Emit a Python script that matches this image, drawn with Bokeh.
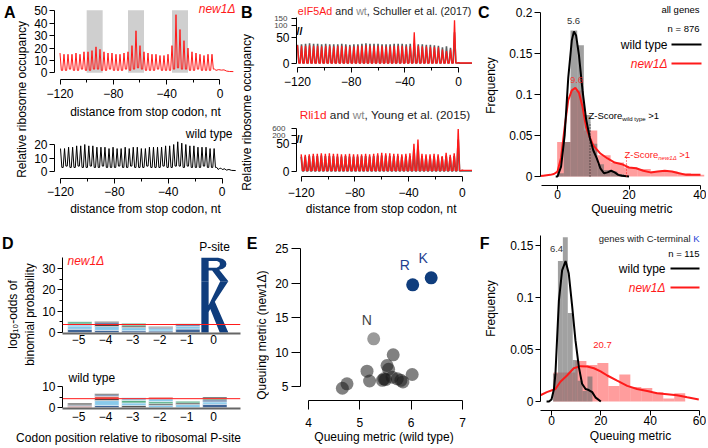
import math
from bokeh.plotting import figure
from bokeh.layouts import row, column
from bokeh.models import Label, FixedTicker, Range1d, Span, LinearAxis
from bokeh.embed import file_html
from bokeh.resources import INLINE

# =========================== DATA ===========================
# Panel A: metagene profiles, one codon peak every 3 nt from -120
A_first_codon = -120
A_codon_step = 3
A_new1_peaks = [16, 15, 15, 15, 16, 15, 17, 17, 18, 21,
                19, 17, 16, 16, 15, 15, 16, 17, 22, 34,
                22, 17, 16, 15, 15, 14, 14, 15, 22, 47,
                35, 26, 20, 17, 16, 15, 14, 15, 15]
A_new1_troughs = [2, 2, 3, 2, 2, 3, 2, 2, 3, 3,
                  2, 2, 3, 2, 2, 2, 3, 2, 3, 4,
                  3, 2, 2, 2, 3, 2, 2, 2, 3, 4,
                  3, 3, 2, 2, 3, 2, 2, 2, 3]
A_new1_tail_x = [-3, -1, 1, 3, 5, 7, 10]
A_new1_tail_y = [2.0, 2.6, 2.2, 2.4, 1.4, 1.1, 1.0]
A_wt_peaks = [17, 17, 18, 18, 19, 19, 20, 19, 19, 18,
              18, 18, 17, 18, 17, 17, 18, 17, 18, 18,
              17, 17, 18, 18, 18, 18, 19, 19, 20, 22,
              21, 20, 19, 19, 18, 18, 18, 17, 17]
A_wt_troughs = [3, 4, 3, 3, 4, 3, 3, 4, 3, 3,
                4, 3, 3, 3, 4, 3, 3, 4, 3, 3,
                3, 4, 3, 3, 3, 4, 3, 3, 4, 4,
                3, 4, 3, 3, 3, 4, 3, 3, 3]
A_wt_tail_x = [-3, -2, -1, 0, 2, 3, 5, 7, 10]
A_wt_tail_y = [1.5, 2.2, 2.5, 1.5, 2.0, 1.0, 1.5, 0.8, 0.7]
A_pause_start = [-100, -69, -36]
A_pause_end = [-88, -57, -24]
A_pause_top = 50.5

# Panel B: published datasets (codon peaks from -120 to -3)
B_first_codon = -120
B_codon_step = 3
B1_wt_peaks = [36, 37, 38, 39, 38, 38, 37, 38, 37, 37,
               37, 38, 37, 36, 37, 37, 38, 39, 38, 38,
               38, 37, 37, 37, 38, 38, 38, 37, 38, 39,
               37, 37, 36, 36, 35, 34, 31, 33, 30, 60]
B1_mut_peaks = [35, 34, 34, 35, 34, 34, 33, 34, 34, 33,
                34, 34, 33, 33, 33, 34, 34, 35, 34, 34,
                34, 34, 33, 33, 34, 34, 34, 33, 33, 60,
                34, 33, 33, 32, 32, 31, 27, 24, 27, 136]
B1_wt_trough = 1.0
B1_mut_trough = 0.8
B1_tail_x = [0, 1, 10]
B1_wt_tail_y = [1.0, 0.5, 0.5]
B1_mut_tail_y = [1.5, 1.0, 1.0]
B2_wt_peaks = [27, 27, 28, 28, 28, 29, 28, 28, 28, 27,
               27, 28, 27, 27, 27, 28, 28, 27, 28, 29,
               29, 29, 28, 28, 28, 27, 28, 28, 40, 45,
               28, 27, 27, 28, 27, 26, 29, 26, 28, 58]
B2_mut_peaks = [31, 30, 31, 32, 32, 33, 32, 33, 32, 32,
                31, 31, 32, 31, 31, 31, 32, 31, 32, 33,
                34, 33, 33, 32, 32, 31, 32, 33, 50, 58,
                32, 31, 31, 32, 31, 28, 34, 30, 33, 600]
B2_wt_trough = 1.0
B2_mut_trough = 1.5
B2_tail_x = [0, 1, 10]
B2_wt_tail_y = [1.5, 1.0, 1.0]
B2_mut_tail_y = [2.5, 2.0, 2.0]
B1_break_labels = [100, 150]
B2_break_labels = [200, 600]

# Panel C: queuing metric, all genes
C_wt_edges = [-0.1, 1.77, 3.64, 5.51, 7.38, 9.25, 11.12, 12.99, 14.86, 16.73, 18.6]
C_wt_freq = [0.004, 0.042, 0.178, 0.16, 0.075, 0.04, 0.015, 0.008, 0.006, 0.003]
C_mut_edges = [-0.1, 3.64, 7.38, 11.12, 14.86, 18.6, 22.34, 26.08, 29.82, 33.56, 37.3, 41.04]
C_mut_freq = [0.042, 0.105, 0.056, 0.026, 0.017, 0.011, 0.009, 0.006, 0.006, 0.004, 0.002]
C_wt_kde_x = [-0.5, 0, 1, 2, 3, 4, 4.6, 5.2, 6, 7, 8, 9, 10, 11, 12, 13, 14, 15, 16, 17, 18, 20]
C_wt_kde_y = [0, 0.0, 0.012, 0.05, 0.12, 0.166, 0.177, 0.172, 0.148, 0.105, 0.07, 0.048,
              0.032, 0.022, 0.01, 0.004, 0.005, 0.007, 0.005, 0.002, 0.001, 0]
C_mut_kde_x = [-5, -4, -2, -1, 0, 1, 2, 3, 4, 5, 6, 7, 8, 9, 10, 12, 14, 16, 18, 20,
               22, 24, 26, 28, 30, 32, 34, 36, 38, 40]
C_mut_kde_y = [0.0005, 0.001, 0.002, 0.003, 0.006, 0.023, 0.06, 0.093, 0.105, 0.108,
               0.102, 0.085, 0.06, 0.048, 0.038, 0.028, 0.022, 0.017, 0.015, 0.011,
               0.01, 0.007, 0.005, 0.006, 0.007, 0.006, 0.004, 0.002, 0.002, 0.002]
C_wt_median = "5.6"
C_mut_median = "9.6"
C_n = "n = 876"
C_wt_zcut = 9.1
C_mut_zcut = 19.3

# Panel D: sequence logos (amino acid, log10-odds height) per codon position
D_positions = [-5, -4, -3, -2, -1, 0]
D_new1_stacks = [
    [("K", 1.5), ("N", 1.6), ("T", 0.9), ("G", 1.0)],
    [("R", 1.0), ("N", 1.8), ("L", 1.0), ("K", 0.8), ("P", 0.6)],
    [("K", 0.8), ("S", 1.5), ("L", 0.8), ("G", 1.2)],
    [("K", 0.7), ("N", 1.1), ("K", 0.6), ("L", 0.4)],
    [("K", 1.6), ("N", 1.2), ("R", 0.8), ("G", 0.5)],
    [("K", 24.0), ("R", 11.0)],
]
D_wt_stacks = [
    [("D", 0.6), ("K", 0.5), ("L", 0.6), ("A", 0.5)],
    [("K", 1.0), ("N", 2.3), ("L", 1.0), ("E", 1.0), ("K", 0.7), ("L", 0.5)],
    [("A", 0.9), ("N", 1.3), ("G", 1.2), ("T", 1.2)],
    [("N", 1.1), ("L", 0.7), ("G", 1.0), ("N", 1.4), ("E", 0.7)],
    [("N", 1.4), ("A", 0.8), ("G", 0.8)],
    [("K", 1.5), ("N", 1.2), ("K", 0.9), ("G", 0.8), ("A", 0.6)],
]
D_new1_threshold = 3.75
D_wt_threshold = 4.2

# Panel E: per amino acid queuing metric
E_other_wt = [4.66, 4.75, 5.14, 5.19, 5.47, 5.44, 5.50, 5.53, 5.56, 5.65, 5.63, 5.73, 5.80, 5.84, 6.02]
E_other_new1 = [4.75, 5.39, 7.22, 5.80, 6.11, 5.90, 6.00, 8.04, 7.50, 9.59, 6.35, 6.11, 5.90, 5.66, 6.74]
E_N_wt = [5.27]
E_N_new1 = [11.91]
E_basic_aa = ["R", "K"]
E_basic_wt = [6.03, 6.39]
E_basic_new1 = [19.74, 20.75]

# Panel F: genes with C-terminal K
F_wt_edges = [0.6, 2.6, 4.6, 6.6, 8.6, 10.6, 12.6, 14.6, 16.6]
F_wt_freq = [0.027, 0.135, 0.158, 0.085, 0.04, 0.02, 0.01, 0.024]
F_mut_edges = [0.8, 5.25, 9.7, 14.15, 18.6, 23.05, 27.5, 31.95, 36.4, 40.85, 45.3, 49.75, 54.2]
F_mut_freq = [0.028, 0.028, 0.039, 0.035, 0.037, 0.015, 0.026, 0.014, 0.013, 0.009, 0.003, 0.008]
F_wt_kde_x = [-2, -1, 0, 1, 1.6, 3, 4.3, 5.7, 7, 8.4, 9.7, 11.1, 12.4, 13.8, 15.1, 16.5, 17.8, 20]
F_wt_kde_y = [0, 0.0, 0.002, 0.012, 0.027, 0.097, 0.126, 0.135, 0.123, 0.091, 0.059, 0.033,
              0.017, 0.012, 0.011, 0.009, 0.004, 0]
F_mut_kde_x = [-4.5, -1.9, 1.6, 3.6, 6.3, 9, 11.8, 14.5, 17.2, 19.9, 22.6, 26.6, 30.7,
               34.7, 38.8, 42.8, 46.9, 50.9, 55, 59.7]
F_mut_kde_y = [0.006, 0.009, 0.012, 0.019, 0.025, 0.032, 0.034, 0.0337, 0.032, 0.029,
               0.025, 0.02, 0.015, 0.012, 0.01, 0.008, 0.007, 0.006, 0.004, 0.002]
F_wt_median = "6.4"
F_mut_median = "20.7"
F_n = "n = 115"

# =========================== STYLE ===========================
FONT = "Liberation Sans"
RED = "#ff1a1a"
BLACK = "#000000"
DARK = "#222222"
GRAY_TXT = "#8a8a8a"
B_GRAY = "#5a6161"
NAVY = "#0f3d7d"
NB = "\u00a0"
AA_COLORS = {"K": NAVY, "R": NAVY, "H": NAVY,
             "N": "#6cbde6", "S": "#6cbde6", "T": "#6cbde6", "Q": "#6cbde6",
             "D": "#d7301f", "E": "#d7301f", "G": "#2f9e6e",
             "A": "#151515", "L": "#151515", "P": "#151515", "W": "#151515"}
LETTER_SHAPES = {
    "K": [([0, 0, 0.27, 0.27, 0.70, 1.0, 0.50, 1.0, 0.68, 0.33, 0.27, 0.27],
           [0, 1, 1, 0.53, 1, 1, 0.60, 0, 0, 0.46, 0.40, 0])],
    "R": [([0, 0, 0.62, 0.80, 0.90, 0.93, 0.90, 0.80, 0.66, 1.0, 0.70, 0.40, 0.27, 0.27],
           [0, 1, 1, 0.95, 0.86, 0.74, 0.62, 0.53, 0.49, 0, 0, 0.46, 0.46, 0]),
          ([0.27, 0.27, 0.58, 0.67, 0.69, 0.66, 0.57],
           [0.58, 0.87, 0.87, 0.81, 0.73, 0.64, 0.58])],
}

ARIAL = {' ': 278, NB: 278, '(': 333, ')': 333, ',': 278, '-': 333, '.': 278, '=': 584,
         '>': 584, 'A': 667, 'C': 722, 'K': 667, 'R': 722, 'S': 667, 'Y': 667, 'Z': 611,
         'Q': 778, 'a': 556, 'c': 500, 'd': 556, 'e': 556, 'g': 556, 'h': 556, 'i': 222,
         'l': 222, 'm': 833, 'n': 556, 'o': 556, 'p': 556, 'r': 333, 's': 500, 't': 278,
         'u': 556, 'w': 722, 'y': 500, 'I': 278, 'F': 611, 'Δ': 668}


def tw(s, size):
    return sum(ARIAL.get(c, 556) for c in s) * size / 1000.0


def base_fig(tile, frame, xr, yr, **kw):
    tx0, ty0, tx1, ty1 = tile
    fx0, fy0, fx1, fy1 = frame
    p = figure(width=tx1 - tx0, height=ty1 - ty0, x_range=Range1d(xr[0], xr[1]),
               y_range=Range1d(yr[0], yr[1]), toolbar_location=None, output_backend="svg",
               title=None, min_border_left=fx0 - tx0, min_border_right=tx1 - fx1,
               min_border_top=fy0 - ty0, min_border_bottom=ty1 - fy1, **kw)
    p.outline_line_color = None
    p.background_fill_color = "white"
    p.border_fill_color = "white"
    p.xgrid.visible = False
    p.ygrid.visible = False
    return p


class Panel:
    """tile/frame in page pixels; xmap/ymap = (pixel, data value, px per unit)."""

    def __init__(self, tile, frame=None, xmap=None, ymap=None):
        tx0, ty0, tx1, ty1 = tile
        blank = frame is None
        if blank:
            frame = tile
            xmap = (tx0, 0.0, 1.0)
            ymap = (ty1, 0.0, 1.0)
        fx0, fy0, fx1, fy1 = frame
        xr = (xmap[1] + (fx0 - xmap[0]) / xmap[2], xmap[1] + (fx1 - xmap[0]) / xmap[2])
        yr = (ymap[1] - (fy1 - ymap[0]) / ymap[2], ymap[1] + (ymap[0] - fy0) / ymap[2])
        kw = dict(x_axis_location=None, y_axis_location=None) if blank else {}
        self.p = base_fig(tile, frame, xr, yr, **kw)
        self.fl, self.fr, self.ft, self.fb = fx0, fx1, fy0, fy1
        self.xr, self.yr = xr, yr

    def dx(self, px):
        return self.xr[0] + (px - self.fl) / (self.fr - self.fl) * (self.xr[1] - self.xr[0])

    def dy(self, py):
        return self.yr[1] - (py - self.ft) / (self.fb - self.ft) * (self.yr[1] - self.yr[0])

    def text(self, px, py, s, size=12, color=BLACK, align="left", baseline="middle",
             style="normal", **kw):
        self.p.add_layout(Label(x=self.dx(px), y=self.dy(py), text=s, text_font=FONT,
                                text_font_size=f"{size}px", text_color=color, text_align=align,
                                text_baseline=baseline, text_font_style=style, **kw))

    def rich(self, px, py, parts, align="left"):
        total = sum(tw(t, s) for t, s, *_ in parts)
        cur = px - total if align == "right" else px
        for t, s, c, st, sub in parts:
            self.text(cur, py + sub, t, size=s, color=c, style=st)
            cur += tw(t, s)

    def hseg(self, px0, px1, py, color, width=2):
        y = self.dy(py)
        self.p.segment(x0=[self.dx(px0)], y0=[y], x1=[self.dx(px1)], y1=[y],
                       line_color=color, line_width=width)


def quiet_axis(ax):
    ax.axis_line_color = None
    ax.major_tick_line_color = None
    ax.minor_tick_line_color = None
    ax.major_tick_out = 0
    ax.minor_tick_out = 0
    ax.major_tick_in = 0
    ax.minor_tick_in = 0


def label_only_axis(ax, text, standoff=0):
    ax.ticker = FixedTicker(ticks=[])
    quiet_axis(ax)
    ax.major_label_standoff = 0
    ax.axis_label = text
    ax.axis_label_text_font = FONT
    ax.axis_label_text_font_size = "12px"
    ax.axis_label_text_font_style = "normal"
    ax.axis_label_text_color = BLACK
    ax.axis_label_standoff = standoff


def title_strip(tile, frame_left, frame_top, frame_bottom, texts, letter, letter_py, letter_standoff):
    """vertical axis-title strip (texts[0] nearest the plot) with the panel letter outermost."""
    frame = (frame_left, frame_top, tile[2], frame_bottom)
    p = base_fig(tile, frame, (0, 1), (0, 1), x_axis_location=None, y_axis_location="left")
    label_only_axis(p.yaxis[0], texts[0])
    for t in texts[1:]:
        ax = LinearAxis()
        label_only_axis(ax, t)
        p.add_layout(ax, "left")
    yv = round((frame_bottom - letter_py) / (frame_bottom - frame_top), 4)
    ax = LinearAxis(ticker=FixedTicker(ticks=[yv]), major_label_overrides={yv: letter})
    quiet_axis(ax)
    ax.major_label_standoff = letter_standoff
    ax.major_label_text_font = FONT
    ax.major_label_text_font_size = "16px"
    ax.major_label_text_font_style = "bold"
    ax.major_label_text_color = BLACK
    p.add_layout(ax, "left")
    return p


def axis_style(ax, ticks, minor=(), bounds=None, overrides=None, tick_out=5, size="12px",
               color=BLACK, width=1, standoff=2, label=None, label_standoff=2):
    ax.ticker = FixedTicker(ticks=list(ticks), minor_ticks=list(minor))
    if bounds is not None:
        ax.bounds = bounds
    if overrides:
        ax.major_label_overrides = overrides
    ax.major_tick_out = tick_out
    ax.major_tick_in = 0
    ax.minor_tick_out = max(2, tick_out - 2)
    ax.minor_tick_in = 0
    if tick_out == 0:
        ax.major_tick_line_color = None
        ax.minor_tick_line_color = None
    ax.major_label_text_font = FONT
    ax.major_label_text_font_size = size
    ax.major_label_text_color = BLACK
    ax.major_label_standoff = standoff
    ax.axis_line_color = color
    ax.axis_line_width = width
    if label:
        ax.axis_label = label
        ax.axis_label_text_font = FONT
        ax.axis_label_text_font_size = "12px"
        ax.axis_label_text_font_style = "normal"
        ax.axis_label_text_color = BLACK
        ax.axis_label_standoff = label_standoff


def zigzag(first, step, peaks, troughs, tail_x, tail_y, scale=None):
    xs, ys = [], []
    for k, pk in enumerate(peaks):
        x0 = first + step * k
        t = troughs[k] if isinstance(troughs, list) else troughs
        xs += [x0, x0 + 1, x0 + 2]
        ys += [pk, t, t]
    xs += list(tail_x)
    ys += list(tail_y)
    if scale:
        ys = [scale(v) for v in ys]
    return xs, ys


def b1_scale(v):
    if v <= 70:
        return v
    if v <= 100:
        return 70 + (v - 70) * 0.1
    return round(73 + (v - 100) * 0.28, 3)


def b2_scale(v):
    if v <= 60:
        return v
    if v <= 200:
        return round(60 + (v - 60) * 6 / 140, 3)
    return round(66 + (v - 200) * 0.0275, 3)


def hist(pn, edges, freq, color, alpha):
    pn.p.quad(left=edges[:-1], right=edges[1:], top=freq, bottom=[0] * len(freq),
              fill_color=color, fill_alpha=alpha, line_color=None)


def break_axis(pn, scale, values, standoff):
    ticks = [scale(v) for v in values]
    ax2 = LinearAxis(ticker=FixedTicker(ticks=ticks),
                     major_label_overrides={t: str(v) for t, v in zip(ticks, values)})
    quiet_axis(ax2)
    ax2.major_label_standoff = standoff
    ax2.major_label_text_font = FONT
    ax2.major_label_text_font_size = "8px"
    pn.p.add_layout(ax2, "left")


# =========================== PANEL A ===========================
TAt = title_strip((0, 0, 30, 226), 25, 3, 195, ["Relative ribosome occupancy"], "A", 12, -4)

A1 = Panel((30, 0, 236, 121), (54, 0, 236, 83), (59.5, -120, 1.3333), (76, 0, 1.3))
for l, r in zip(A_pause_start, A_pause_end):
    A1.p.quad(left=[l], right=[r], bottom=[0], top=[A_pause_top], fill_color="#cfcfcf",
              line_color=None)
x, y = zigzag(A_first_codon, A_codon_step, A_new1_peaks, A_new1_troughs, A_new1_tail_x, A_new1_tail_y)
A1.p.line(x, y, line_color=RED, line_width=1)
axis_style(A1.p.xaxis[0], [-120, -80, -40, 0], [-100, -60, -20], bounds=(-120, 0), standoff=4,
           label="distance from stop codon, nt", label_standoff=4)
axis_style(A1.p.yaxis[0], [0, 10, 20, 30, 40, 50], bounds=(0, 50))
A1.text(235, 9, "new1Δ", size=12, color=RED, align="right", style="italic")

A2 = Panel((30, 121, 236, 226), (54, 124, 236, 178), (60, -120, 1.3475), (171, 0, 1.35))
x, y = zigzag(A_first_codon, A_codon_step, A_wt_peaks, A_wt_troughs, A_wt_tail_x, A_wt_tail_y)
A2.p.line(x, y, line_color=BLACK, line_width=1)
axis_style(A2.p.xaxis[0], [-120, -80, -40, 0], [-100, -60, -20], bounds=(-120, 0), standoff=3,
           label="distance from stop codon, nt", label_standoff=3)
axis_style(A2.p.yaxis[0], [0, 10, 20], bounds=(0, 20))
A2.text(232, 133, "wild type", size=12, align="right")

# =========================== PANEL B ===========================
TBt = title_strip((236, 0, 258, 226), 253, 0, 224, ["Relative ribosome occupancy"], "B", 12, -16)

B1 = Panel((258, 0, 472, 105), (296, 0, 472, 67), (297, -120, 1.342), (63, 0, 0.52))
x, y = zigzag(B_first_codon, B_codon_step, B1_wt_peaks, B1_wt_trough, B1_tail_x, B1_wt_tail_y, b1_scale)
B1.p.line(x, y, line_color=B_GRAY, line_width=1.6)
x, y = zigzag(B_first_codon, B_codon_step, B1_mut_peaks, B1_mut_trough, B1_tail_x, B1_mut_tail_y, b1_scale)
B1.p.line(x, y, line_color=RED, line_width=1.3)
axis_style(B1.p.xaxis[0], [-120, -80, -40, 0], [-100, -60, -20], bounds=(-120, 0), standoff=4)
bt = [b1_scale(v) for v in B1_break_labels]
axis_style(B1.p.yaxis[0], [0, 50] + bt, bounds=(0, 88), overrides={t: "" for t in bt})
break_axis(B1, b1_scale, B1_break_labels, -14)
B1.text(299, 30, "//", size=11, style="bold", align="center")
B1.rich(471, 10, [("eIF5Ad", 10.7, RED, "normal", 0), (NB + "and" + NB, 10.7, DARK, "normal", 0),
                  ("wt", 10.7, GRAY_TXT, "normal", 0),
                  (", Schuller et al. (2017)", 10.7, DARK, "normal", 0)], align="right")

B2 = Panel((258, 105, 472, 226), (296, 105, 472, 176), (300.7, -120, 1.342), (171, 0, 0.553))
x, y = zigzag(B_first_codon, B_codon_step, B2_wt_peaks, B2_wt_trough, B2_tail_x, B2_wt_tail_y, b2_scale)
B2.p.line(x, y, line_color=B_GRAY, line_width=1.8)
x, y = zigzag(B_first_codon, B_codon_step, B2_mut_peaks, B2_mut_trough, B2_tail_x, B2_mut_tail_y, b2_scale)
B2.p.line(x, y, line_color=RED, line_width=1.4)
axis_style(B2.p.xaxis[0], [-120, -80, -40, 0], [-100, -60, -20], bounds=(-120, 0), standoff=6,
           label="distance from stop codon, nt" + NB * 2, label_standoff=2)
bt = [b2_scale(v) for v in B2_break_labels]
axis_style(B2.p.yaxis[0], [0, 50] + bt, bounds=(0, 78), overrides={t: "" for t in bt})
break_axis(B2, b2_scale, B2_break_labels, -12)
B2.text(299, 138, "//", size=11, style="bold", align="center")
B2.rich(471, 114, [("Rli1d", 11.8, RED, "normal", 0), (NB + "and" + NB, 11.8, DARK, "normal", 0),
                   ("wt", 11.8, GRAY_TXT, "normal", 0),
                   (", Young et al. (2015)", 11.8, DARK, "normal", 0)], align="right")

# =========================== PANEL C ===========================
TCt = title_strip((472, 0, 499, 226), 497, 3, 167, ["Frequency"], "C", 12, -9)

C = Panel((499, 0, 706, 226), (540, 0, 706, 185), (557, 0, 3.575), (176, 0, 820))
hist(C, C_mut_edges, C_mut_freq, "#ff3b3b", 0.5)
hist(C, C_wt_edges, C_wt_freq, "#6f6f6f", 0.65)
C.p.line(C_mut_kde_x, C_mut_kde_y, line_color=RED, line_width=2)
C.p.line(C_wt_kde_x, C_wt_kde_y, line_color=BLACK, line_width=2)
C.p.segment(x0=[C_wt_zcut], y0=[0], x1=[C_wt_zcut], y1=[0.066], line_color=BLACK,
            line_dash="1 2", line_width=1)
C.p.segment(x0=[C_mut_zcut], y0=[0], x1=[C_mut_zcut], y1=[0.025], line_color=RED,
            line_dash="1 2", line_width=1)
axis_style(C.p.xaxis[0], [0, 20, 40], bounds=(-4.5, 40), tick_out=4, standoff=0,
           label=NB * 5 + "Queuing metric", label_standoff=0)
axis_style(C.p.yaxis[0], [0, 0.05, 0.1, 0.15, 0.2], bounds=(0, 0.2), overrides={0: "0"}, tick_out=6)
C.text(573, 20, C_wt_median, size=9.5, color="#333333", align="center")
C.text(576, 79, C_mut_median, size=9.5, color=RED, align="center", text_alpha=0.8)
C.rich(588, 115, [("Z-Score", 9.5, BLACK, "normal", 0), ("wild type", 6, BLACK, "normal", 3),
                  (NB + ">1", 9.5, BLACK, "normal", 0)])
C.rich(624, 154, [("Z-Score", 9.5, RED, "normal", 0), ("new1Δ", 6, RED, "italic", 3),
                  (NB + ">1", 9.5, RED, "normal", 0)])
C.text(699, 9, "all genes", size=9.5, align="right")
C.text(699, 28, C_n, size=9.5, align="right")
C.text(667, 44, "wild type", size=12, align="right")
C.hseg(671, 701, 44, BLACK)
C.text(667, 63, "new1Δ", size=12, color=RED, align="right", style="italic")
C.hseg(671, 701, 63, RED)


# =========================== PANEL D ===========================
def draw_logo(pn, positions, stacks):
    for pos, stack in zip(positions, stacks):
        base = 0.0
        for aa, h in stack:
            x0 = pos - 0.45
            if h >= 5 and aa in LETTER_SHAPES:
                rings_x = [[x0 + u for u in rx] for rx, ry in LETTER_SHAPES[aa]]
                rings_y = [[base + h * v for v in ry] for rx, ry in LETTER_SHAPES[aa]]
                pn.p.multi_polygons(xs=[[rings_x]], ys=[[rings_y]], fill_color=AA_COLORS[aa],
                                    line_color=None)
            else:
                pn.p.quad(left=[x0 + 0.05], right=[x0 + 0.95], bottom=[base], top=[base + h],
                          fill_color=AA_COLORS[aa], fill_alpha=0.8, line_color="white",
                          line_width=0.5)
            base += h


TDt = title_strip((0, 226, 36, 428), 33, 236, 392, ["binomial probability", "log₁₀-odds of"],
                  "D", 243, -11)

D1 = Panel((36, 226, 244, 370), (62, 238, 240, 333), (78, -5, 27), (332, 0, 2.133))
draw_logo(D1, D_positions, D_new1_stacks)
D1.p.add_layout(Span(location=D_new1_threshold, dimension="width", line_color=RED, line_width=1))
axis_style(D1.p.xaxis[0], D_positions, tick_out=0, color="#666666", width=2, standoff=1)
axis_style(D1.p.yaxis[0], [0, 10, 20, 30], [5, 15, 25], bounds=(0, 35))
D1.text(214, 246, "P-site", size=12, align="center")
D1.text(67, 260, "new1Δ", size=12, color=RED, style="italic")

D2 = Panel((36, 370, 244, 428), (62, 372, 240, 408), (78, -5, 27), (407, 0, 2.1))
draw_logo(D2, D_positions, D_wt_stacks)
D2.p.add_layout(Span(location=D_wt_threshold, dimension="width", line_color=RED, line_width=1))
axis_style(D2.p.xaxis[0], D_positions, tick_out=0, color="#666666", width=2, standoff=3)
axis_style(D2.p.yaxis[0], [0, 10], [5], bounds=(0, 10))
D2.text(68, 377, "wild type", size=12)

TDb = Panel((0, 428, 244, 446))
TDb.text(128, 437, "Codon position relative to ribosomal P-site", size=12, align="center")

# =========================== PANEL E ===========================
TEt = title_strip((244, 226, 268, 446), 263, 236, 430, ["Queuing  metric (new1Δ)"], "E", 243, -6)

E = Panel((268, 226, 470, 446), (300, 236, 467, 400), (308, 4, 51.33), (386, 5, 6.9))
E.p.scatter(E_other_wt, E_other_new1, size=13, fill_color="#1a1a1a", fill_alpha=0.55,
            line_color=None)
E.p.scatter(E_N_wt, E_N_new1, size=13, fill_color="#8f8f8f", fill_alpha=0.9, line_color=None)
E.p.scatter(E_basic_wt, E_basic_new1, size=13, fill_color=NAVY, line_color=None)
for aa, xv, yv in zip(E_basic_aa, E_basic_wt, E_basic_new1):
    E.p.add_layout(Label(x=xv, y=yv, text=aa, x_offset=-8, y_offset=20, text_font=FONT,
                         text_font_size="14px", text_color="#1f3f8f", text_align="center",
                         text_baseline="middle"))
E.p.add_layout(Label(x=E_N_wt[0], y=E_N_new1[0], text="N", x_offset=-7, y_offset=19,
                     text_font=FONT, text_font_size="14px", text_color="#444444",
                     text_align="center", text_baseline="middle"))
axis_style(E.p.xaxis[0], [4, 5, 6, 7], bounds=(4, 7), tick_out=9, standoff=8,
           label="Queuing metric (wild type)", label_standoff=0)
axis_style(E.p.yaxis[0], [5, 10, 15, 20, 25], bounds=(5, 25), tick_out=9, standoff=3)

# =========================== PANEL F ===========================
TFt = title_strip((470, 226, 499, 446), 497, 236, 380, ["Frequency"], "F", 243, -9)

F = Panel((499, 226, 706, 446), (540, 228, 700, 410), (551, 0, 2.467), (401, 0, 1040))
hist(F, F_mut_edges, F_mut_freq, "#ff3b3b", 0.5)
hist(F, F_wt_edges, F_wt_freq, "#6f6f6f", 0.65)
F.p.line(F_mut_kde_x, F_mut_kde_y, line_color=RED, line_width=2)
F.p.line(F_wt_kde_x, F_wt_kde_y, line_color=BLACK, line_width=2)
axis_style(F.p.xaxis[0], [0, 20, 40, 60], bounds=(-4.4, 60), standoff=0,
           label=NB * 7 + "Queuing  metric", label_standoff=1)
axis_style(F.p.yaxis[0], [0, 0.05, 0.1, 0.15], bounds=(0, 0.16), overrides={0: "0"})
F.text(556, 248, F_wt_median, size=9.5, color="#333333", align="center")
F.text(602, 344, F_mut_median, size=9.5, color=RED, align="center")
F.rich(699, 238, [("genes with C-terminal" + NB, 9.5, DARK, "normal", 0),
                  ("K", 9.5, "#2b3fd6", "normal", 0)], align="right")
F.text(699, 253, F_n, size=9.5, align="right")
F.text(665, 268, "wild type", size=12, align="right")
F.hseg(670, 699, 268, BLACK)
F.text(665, 287, "new1Δ", size=12, color=RED, align="right", style="italic")
F.hseg(670, 699, 287, RED)

# =========================== LAYOUT ===========================
top = row(column(TAt), column(A1.p, A2.p), column(TBt), column(B1.p, B2.p),
          column(TCt), column(C.p))
colD = column(row(column(TDt), column(D1.p, D2.p)), TDb.p)
bottom = row(colD, column(TEt), column(E.p), column(TFt), column(F.p))
layout = column(top, bottom)

open("out.html", "w").write(file_html(layout, INLINE))
